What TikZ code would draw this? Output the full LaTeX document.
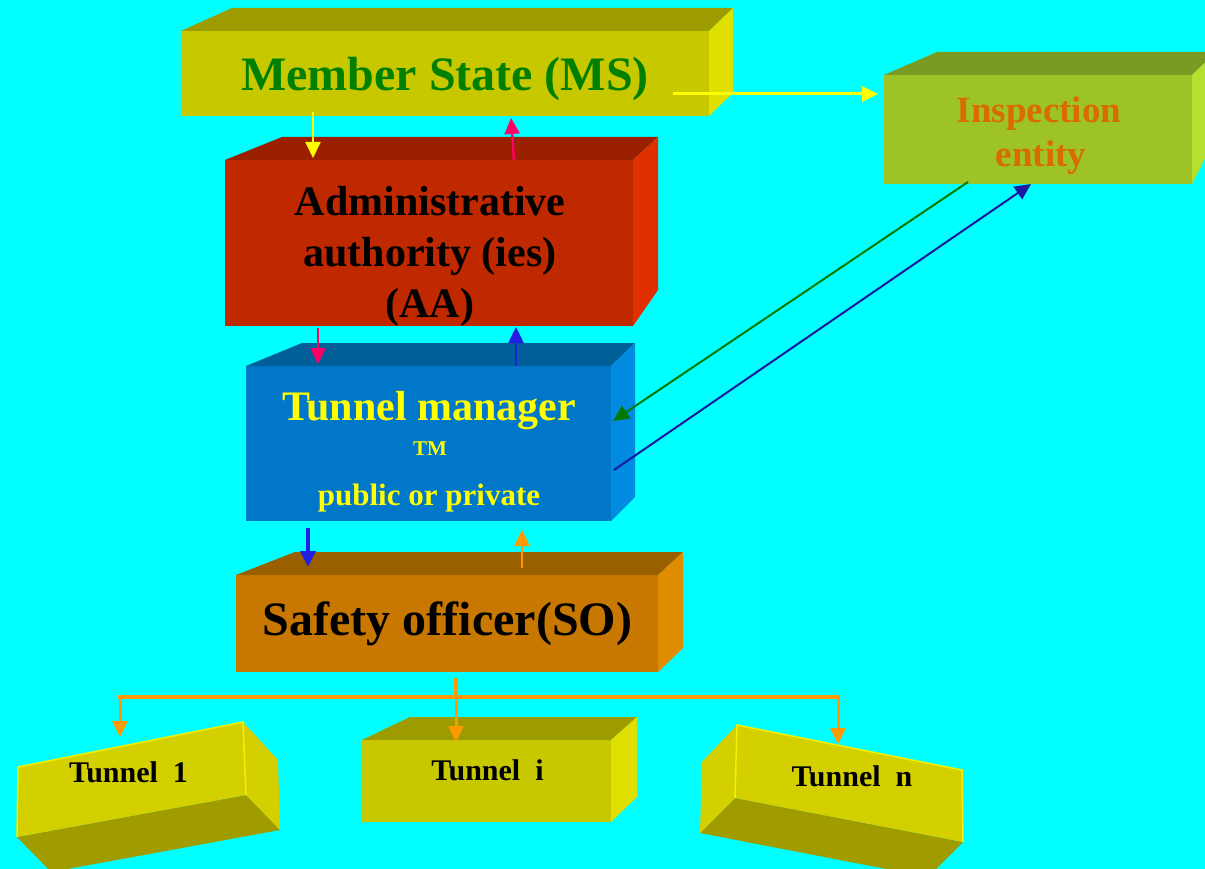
\documentclass[tikz,border=0pt]{standalone}
\usepackage{fontspec}
\setmainfont{Liberation Serif}
\usetikzlibrary{arrows.meta,calc}
\definecolor{bg}{HTML}{00FFFF}
\definecolor{msfront}{HTML}{C8C800}
\definecolor{mstop}{HTML}{9C9C00}
\definecolor{msright}{HTML}{E0E000}
\definecolor{msgreen}{HTML}{008000}
\definecolor{aafront}{HTML}{C02800}
\definecolor{aatop}{HTML}{9A2000}
\definecolor{aaright}{HTML}{E03000}
\definecolor{tmfront}{HTML}{0077C8}
\definecolor{tmtop}{HTML}{005E99}
\definecolor{tmright}{HTML}{008AE0}
\definecolor{sofront}{HTML}{C87800}
\definecolor{sotop}{HTML}{9A6000}
\definecolor{soright}{HTML}{E08C00}
\definecolor{iefront}{HTML}{9DC327}
\definecolor{ietop}{HTML}{7A9A22}
\definecolor{ieright}{HTML}{B5E030}
\definecolor{ietext}{HTML}{D96B00}
\definecolor{tnfront}{HTML}{D4D000}
\definecolor{tnbottom}{HTML}{A09C00}
\definecolor{tnedge}{HTML}{F4F000}
\definecolor{cyellow}{HTML}{FFFF00}
\definecolor{cpink}{HTML}{FF0066}
\definecolor{cblue}{HTML}{2020E0}
\definecolor{cgreen}{HTML}{007A00}
\definecolor{cnavy}{HTML}{1A1AA0}
\definecolor{corange}{HTML}{FF9900}
\begin{document}
\begin{tikzpicture}[x=1pt,y=-1pt,
  face/.style={inner sep=0pt,outer sep=0pt},
  lbl/.style={inner sep=0pt,anchor=base},
  tip/.style={-{Triangle[length=16pt,width=15pt]}},
  fs/.style={font=\bfseries\fontsize{#1}{#1}\selectfont}]
\useasboundingbox (0,0) rectangle (1205,869);
\clip (0,0) rectangle (1205,869);
\fill[bg] (0,0) rectangle (1205,869);

% Member State
\node[face,fill=msfront,minimum width=528pt,minimum height=85pt] (ms) at (445,73.5) {};
\fill[mstop] (ms.north west) -- (232,8) -- (733,8) -- (ms.north east) -- cycle;
\fill[msright] (ms.north east) -- (733,8) -- (733,93) -- (ms.south east) -- cycle;
\node[lbl,fs=48,text=msgreen] (mst) at (445,91) {Member State (MS)};

% Administrative authority
\node[face,fill=aafront,minimum width=408pt,minimum height=166pt] (aa) at (429,243) {};
\fill[aatop] (aa.north west) -- (282,137) -- (658,137) -- (aa.north east) -- cycle;
\fill[aaright] (aa.north east) -- (658,137) -- (658,290) -- (aa.south east) -- cycle;
\node[lbl,fs=42] (aat1) at (430,216) {Administrative};
\node[lbl,fs=42] (aat2) at (430,266) {authority (ies)};
\node[lbl,fs=42] (aat3) at (430,317) {(AA)};

% Tunnel manager
\node[face,fill=tmfront,minimum width=365pt,minimum height=155pt] (tm) at (428.5,443.5) {};
\fill[tmtop] (tm.north west) -- (302,343) -- (635,343) -- (tm.north east) -- cycle;
\fill[tmright] (tm.north east) -- (635,343) -- (635,497) -- (tm.south east) -- cycle;
\node[lbl,fs=42,text=cyellow] (tmt1) at (429,420) {Tunnel manager};
\node[lbl,fs=21,text=cyellow] (tmt2) at (430,455) {TM};
\node[lbl,fs=31,text=cyellow] (tmt3) at (429,505) {public or private};

% Safety officer
\node[face,fill=sofront,minimum width=422pt,minimum height=97pt] (so) at (447,623.5) {};
\fill[sotop] (so.north west) -- (295,552) -- (683,552) -- (so.north east) -- cycle;
\fill[soright] (so.north east) -- (683,552) -- (683,648) -- (so.south east) -- cycle;
\node[lbl,fs=48] (sot) at (447.5,635) {Safety officer(SO)};

% Inspection entity
\node[face,fill=iefront,minimum width=308pt,minimum height=109pt] (ie) at (1038,129.5) {};
\fill[ietop] (ie.north west) -- (937,52) -- (1216,52) -- (ie.north east) -- cycle;
\fill[ieright] (ie.north east) -- (1216,52) -- (1216,137) -- (ie.south east) -- cycle;
\node[lbl,fs=37,text=ietext] (iet1) at (1039,123) {Inspection};
\node[lbl,fs=37,text=ietext] (iet2) at (1041,167) {entity};

% Tunnel i
\node[face,fill=msfront,minimum width=249pt,minimum height=82pt] (ti) at (486.5,781) {};
\fill[mstop] (ti.north west) -- (410,717) -- (637,717) -- (ti.north east) -- cycle;
\fill[msright] (ti.north east) -- (637,717) -- (637,797) -- (ti.south east) -- cycle;
\node[lbl,fs=30] (tit) at (487.5,780) {Tunnel\hspace{0.5em}i};

% Tunnel 1
\fill[tnbottom] (17,837) -- (246,795) -- (280,830) -- (51,872) -- cycle;
\fill[tnfront] (243,722) -- (278,760) -- (280,830) -- (246,795) -- cycle;
\fill[tnfront] (18,767) -- (243,722) -- (246,795) -- (17,837) -- cycle;
\draw[tnedge,line width=1.5pt] (17,837) -- (18,767) -- (243,722) -- (246,795);
\node[lbl,fs=30] (t1t) at (128.5,782) {Tunnel\hspace{0.5em}1};

% Tunnel n
\fill[tnbottom] (700,833) -- (735,798) -- (963,842) -- (928,877) -- cycle;
\fill[tnfront] (702,762) -- (737,725) -- (735,798) -- (700,833) -- cycle;
\fill[tnfront] (737,725) -- (962,770) -- (963,842) -- (735,798) -- cycle;
\draw[tnedge,line width=1.5pt] (735,798) -- (737,725) -- (962,770) -- (963,842);
\node[lbl,fs=30] (tnt) at (852,786) {Tunnel\hspace{0.5em}n};

% connectors
\draw[cyellow,line width=2pt,tip] ([xshift=-132pt,yshift=4pt]ms.south) -- ([xshift=-116pt,yshift=2pt]aa.north);
\draw[cpink,line width=2.5pt,tip] ([xshift=85pt]aa.north) -- ([xshift=66pt,yshift=-2pt]ms.south);
\draw[cyellow,line width=3pt,tip,shorten >=6pt] ([xshift=-36pt,yshift=-20.5pt]ms.east) -- ([yshift=35.5pt]ie.west);
\draw[cpink,line width=2.5pt,tip] ([xshift=-111pt,yshift=-2pt]aa.south) -- ([xshift=-110.5pt,yshift=2pt]tm.north);
\draw[cblue,line width=2.5pt,tip] ([xshift=87.5pt]tm.north) -- ([xshift=87pt,yshift=-1pt]aa.south);
\draw[cgreen,line width=2pt,tip] ([xshift=-70pt,yshift=2pt]ie.south) -- ([xshift=2pt,yshift=22.5pt]tm.east);
\draw[cnavy,line width=2pt,tip] ([xshift=3pt,yshift=-26.5pt]tm.east) -- ([xshift=-7pt]ie.south);
\draw[cblue,line width=3.5pt,tip,shorten <=7pt,shorten >=8pt] ([xshift=-120.5pt]tm.south) -- ([xshift=-139pt]so.north);
\draw[corange,line width=2.5pt,tip,shorten <=7pt,shorten >=9pt] ([xshift=75pt]so.north) -- ([xshift=93.5pt]tm.south);

\coordinate (bus) at (456,697);
\coordinate (busL) at (120,697);
\coordinate (busR) at (838,697);
\coordinate (t1in) at (120,737);
\coordinate (tiin) at (456,742);
\coordinate (tnin) at (838,744);
\draw[corange,line width=3.5pt,shorten <=6pt] ([xshift=9pt]so.south) -- (bus);
\draw[corange,line width=3.5pt] ([xshift=-2pt]busL) -- ([xshift=2pt]busR);
\draw[corange,line width=3pt,tip] (busL) -- (t1in);
\draw[corange,line width=3pt,tip] (bus) -- (tiin);
\draw[corange,line width=3pt,tip] (busR) -- (tnin);
\end{tikzpicture}
\end{document}
